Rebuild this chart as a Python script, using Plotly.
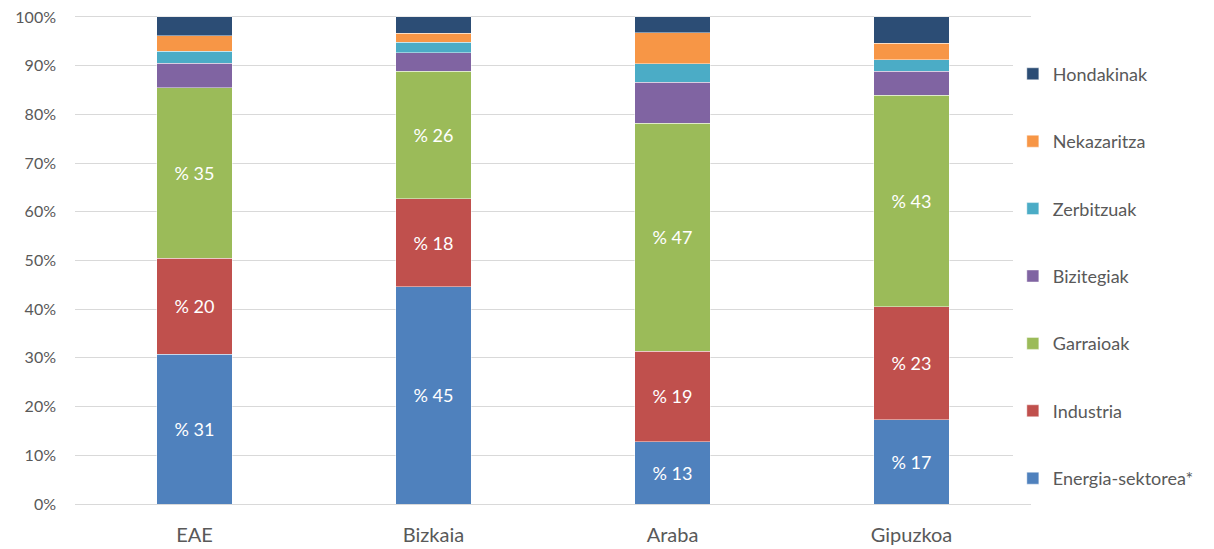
import plotly.graph_objects as go

categories = ["EAE", "Bizkaia", "Araba", "Gipuzkoa"]

energia = [30.7, 44.6, 12.8, 17.3]
industria = [19.8, 18.1, 18.6, 23.2]
garraioak = [35.0, 26.2, 46.8, 43.4]
bizitegiak = [5.0, 3.8, 8.4, 5.0]
zerbitzuak = [2.5, 2.1, 3.8, 2.3]
nekazaritza = [3.1, 1.9, 6.4, 3.4]
hondakinak = [3.9, 3.3, 3.2, 5.4]

y_ticks = [0, 10, 20, 30, 40, 50, 60, 70, 80, 90, 100]

series = [
    ("Energia-sektorea*", energia, "#4F81BD", True),
    ("Industria", industria, "#C0504D", True),
    ("Garraioak", garraioak, "#9BBB59", True),
    ("Bizitegiak", bizitegiak, "#8064A2", False),
    ("Zerbitzuak", zerbitzuak, "#4BACC6", False),
    ("Nekazaritza", nekazaritza, "#F79646", False),
    ("Hondakinak", hondakinak, "#2C4D75", False),
]

FONT = "Lato, 'Open Sans', sans-serif"

fig = go.Figure()
n = len(series)
for i, (name, vals, color, labelled) in enumerate(series):
    fig.add_trace(go.Bar(
        x=categories, y=vals, name=name,
        legendgroup=f"g{i}",
        legendrank=n - i,
        marker=dict(color=color, line=dict(color="rgba(255,255,255,0.55)", width=0.8)),
        text=[f"% {int(v + 0.5)}" for v in vals] if labelled else None,
        textposition="inside" if labelled else "none",
        insidetextanchor="middle",
        textfont=dict(color="white", size=18, family=FONT),
        hoverinfo="name+y",
    ))

# page body has an 8px margin, so figure is sized/offset accordingly
fig.update_layout(
    barmode="stack",
    bargap=0.685,
    width=1206, height=541,
    margin=dict(l=67, r=183, t=7, b=45, autoexpand=False),
    paper_bgcolor="white", plot_bgcolor="white",
    font=dict(family=FONT, color="#595959", size=16),
    uniformtext=dict(minsize=10, mode="show"),
    legend=dict(
        x=0.981, xanchor="left", y=0.917, yanchor="top",
        traceorder="grouped", tracegroupgap=41,
        font=dict(size=18, color="#595959", family=FONT),
        itemwidth=30,
    ),
    xaxis=dict(showline=False, ticks="", tickfont=dict(size=20),
               ticklabelstandoff=17, automargin=False),
    yaxis=dict(
        range=[0, 100.4], tickmode="array", tickvals=y_ticks,
        ticktext=[f"{t}%" for t in y_ticks], ticklabeloverflow="allow",
        showgrid=True, gridcolor="#D9D9D9", gridwidth=1.3,
        zeroline=True, zerolinecolor="#D9D9D9", zerolinewidth=1.3,
        tickfont=dict(size=16), ticks="", ticklabelstandoff=18,
        automargin=False,
    ),
)

fig.write_html("out.html")
